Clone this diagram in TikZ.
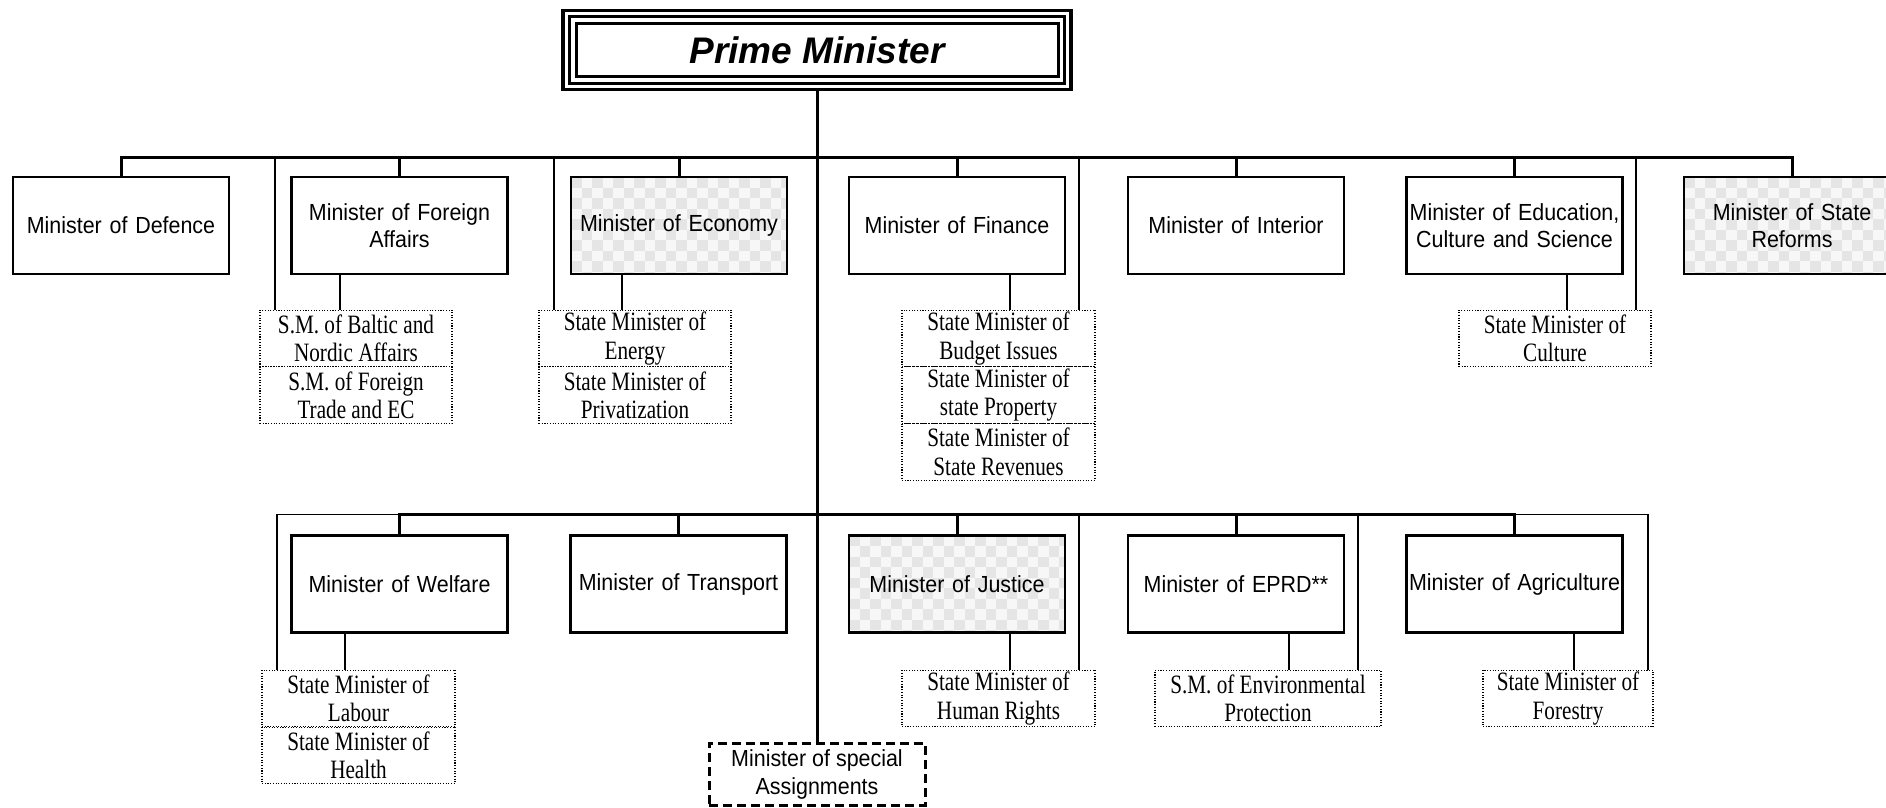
\documentclass[tikz,border=0pt]{standalone}
\usepackage{fontspec}
\setmainfont{Liberation Sans}
\newfontfamily\smfont[FakeStretch=0.8]{Liberation Serif}
\newfontfamily\minfont[FakeStretch=0.92]{Liberation Sans}
\usetikzlibrary{calc}

\tikzset{
  minbox/.style={draw, line width=2.5pt, minimum width=216pt, minimum height=97pt,
    inner sep=0pt, outer sep=0pt, text width=214pt, align=center,
    font=\minfont\fontsize{23.3}{27}\selectfont},
  smbox/.style={draw, line width=1.1pt, dash pattern=on 1.1pt off 1.6pt,
    minimum height=56.7pt, inner sep=0pt, outer sep=0pt, align=center,
    font=\smfont\fontsize{26.5}{28.5}\selectfont},
  checker/.style={fill=black!3, path picture={
    \foreach \i in {0,...,21}{\foreach \j in {0,...,10}{
      \pgfmathtruncatemacro{\k}{mod(\i+\j,2)}
      \ifnum\k=0
        \fill[black!10] ($(path picture bounding box.north west)+(\i*10.5,\j*10.5)$) rectangle ++(10.5,10.5);
      \fi}}}},
  bus/.style={line width=3pt},
  conn/.style={line width=1.6pt},
  specialbox/.style={draw, line width=3pt, dash pattern=on 9pt off 5pt,
    minimum width=216pt, minimum height=62pt, inner sep=0pt, outer sep=0pt,
    align=center, font=\minfont\fontsize{23.3}{28}\selectfont},
}

\begin{document}
\begin{tikzpicture}[x=1pt,y=-1pt]
\useasboundingbox (0,0) rectangle (1886,807);

% Prime Minister
\node[draw, line width=3.5pt, minimum width=508pt, minimum height=79pt, inner sep=0pt, outer sep=0pt,
      font=\fontsize{37}{40}\selectfont\bfseries\itshape] (pm) at (817,50) {Prime Minister};
\draw[line width=2.5pt] ($(pm.north west)+(6.5,6)$) rectangle ($(pm.south east)+(-6.5,-6)$);
\draw[line width=3pt] ($(pm.north west)+(13,13)$) rectangle ($(pm.south east)+(-13,-13)$);

% Row 1 ministers
\node[minbox] (defence)   at (121,225.5)  {Minister of Defence};
\node[minbox] (foreign)   at (399.5,225.5) {Minister of Foreign\\Affairs};
\node[minbox,checker] (economy) at (679,225.5) {Minister of Economy};
\node[minbox] (finance)   at (957,225.5)  {Minister of Finance};
\node[minbox] (interior)  at (1236,225.5) {Minister of Interior};
\node[minbox] (education) at (1514.5,225.5) {Minister of Education,\\Culture and Science};
\node[minbox,checker] (reforms) at (1792,225.5) {Minister of State\\Reforms};

% Row 1 state ministers
\node[smbox, minimum width=192pt] (baltic)   at (356,338.4) {S.M. of Baltic and\\Nordic Affairs};
\node[smbox, minimum width=192pt] (ftrade)   at (356,395.1) {S.M. of Foreign\\Trade and EC};
\node[smbox, minimum width=192pt] (energy)   at (635,338.4) {State Minister of\\Energy};
\node[smbox, minimum width=192pt] (privat)   at (635,395.1) {State Minister of\\Privatization};
\node[smbox, minimum width=193pt] (budget)   at (998.5,338.4) {State Minister of\\Budget Issues};
\node[smbox, minimum width=193pt] (property) at (998.5,395.1) {State Minister of\\state Property};
\node[smbox, minimum width=193pt] (revenues) at (998.5,451.8) {State Minister of\\State Revenues};
\node[smbox, minimum width=192pt] (culture)  at (1555,338.4) {State Minister of\\Culture};

% Row 2 ministers
\node[minbox] (welfare)   at (399.5,584) {Minister of Welfare};
\node[minbox] (transport) at (678.5,584) {Minister of Transport};
\node[minbox,checker] (justice) at (957,584) {Minister of Justice};
\node[minbox] (eprd)      at (1236,584) {Minister of EPRD**};
\node[minbox] (agri)      at (1514.5,584) {Minister of Agriculture};

% Row 2 state ministers
\node[smbox, minimum width=193pt] (labour)   at (358.5,698.5) {State Minister of\\Labour};
\node[smbox, minimum width=193pt] (health)   at (358.5,755.5) {State Minister of\\Health};
\node[smbox, minimum width=193pt] (hrights)  at (998.5,698.5) {State Minister of\\Human Rights};
\node[smbox, minimum width=226pt] (envir)    at (1268,698.5) {S.M. of Environmental\\Protection};
\node[smbox, minimum width=170pt] (forestry) at (1568,698.5) {State Minister of\\Forestry};

% Special assignments
\node[specialbox] (special) at (817,774) {Minister of special\\Assignments};

% Buses
\coordinate (bus1) at (817,157.5);
\coordinate (bus2) at (817,514.5);
\draw[bus] (pm.south) -- (special.north);
\draw[bus] (defence.north) |- (reforms.north |- bus1) -- (reforms.north);
\foreach \n in {foreign,economy,finance,interior,education}
  \draw[bus] (\n.north) -- (\n.north |- bus1);
\draw[bus] (welfare.north) |- (agri.north |- bus2) -- (agri.north);
\foreach \n in {transport,justice,eprd}
  \draw[bus] (\n.north) -- (\n.north |- bus2);

% Side lines from bus 1
\coordinate (s1) at ($(baltic.north west)+(15,0)$);
\coordinate (s2) at ($(energy.north west)+(15,0)$);
\coordinate (s3) at ($(budget.north east)+(-16,0)$);
\coordinate (s4) at ($(culture.north east)+(-15,0)$);
\foreach \s in {s1,s2,s3,s4}
  \draw[conn] (\s) -- (\s |- bus1);

% Side lines from bus 2
\coordinate (t1) at ($(labour.north west)+(15,0)$);
\coordinate (t2) at ($(hrights.north east)+(-16,0)$);
\coordinate (t3) at ($(envir.north east)+(-23,0)$);
\coordinate (t4) at ($(forestry.north east)+(-5,0)$);
\draw[conn] (t1) |- (welfare.north |- bus2);
\draw[conn] (t4) |- (agri.north |- bus2);
\draw[conn] (t2) -- (t2 |- bus2);
\draw[conn] (t3) -- (t3 |- bus2);

% Minister to state minister connectors
\coordinate (k1) at ($(baltic.north)+(-16,0)$);
\coordinate (k2) at ($(energy.north)+(-13,0)$);
\coordinate (k3) at ($(budget.north)+(11.5,0)$);
\coordinate (k4) at ($(culture.north)+(12,0)$);
\draw[conn] (k1 |- foreign.south) -- (k1);
\draw[conn] (k2 |- economy.south) -- (k2);
\draw[conn] (k3 |- finance.south) -- (k3);
\draw[conn] (k4 |- education.south) -- (k4);
\coordinate (m1) at ($(labour.north)+(-13.5,0)$);
\coordinate (m2) at ($(hrights.north)+(11.5,0)$);
\coordinate (m3) at ($(envir.north)+(21,0)$);
\coordinate (m4) at ($(forestry.north)+(6,0)$);
\draw[conn] (m1 |- welfare.south) -- (m1);
\draw[conn] (m2 |- justice.south) -- (m2);
\draw[conn] (m3 |- eprd.south) -- (m3);
\draw[conn] (m4 |- agri.south) -- (m4);
\end{tikzpicture}
\end{document}
